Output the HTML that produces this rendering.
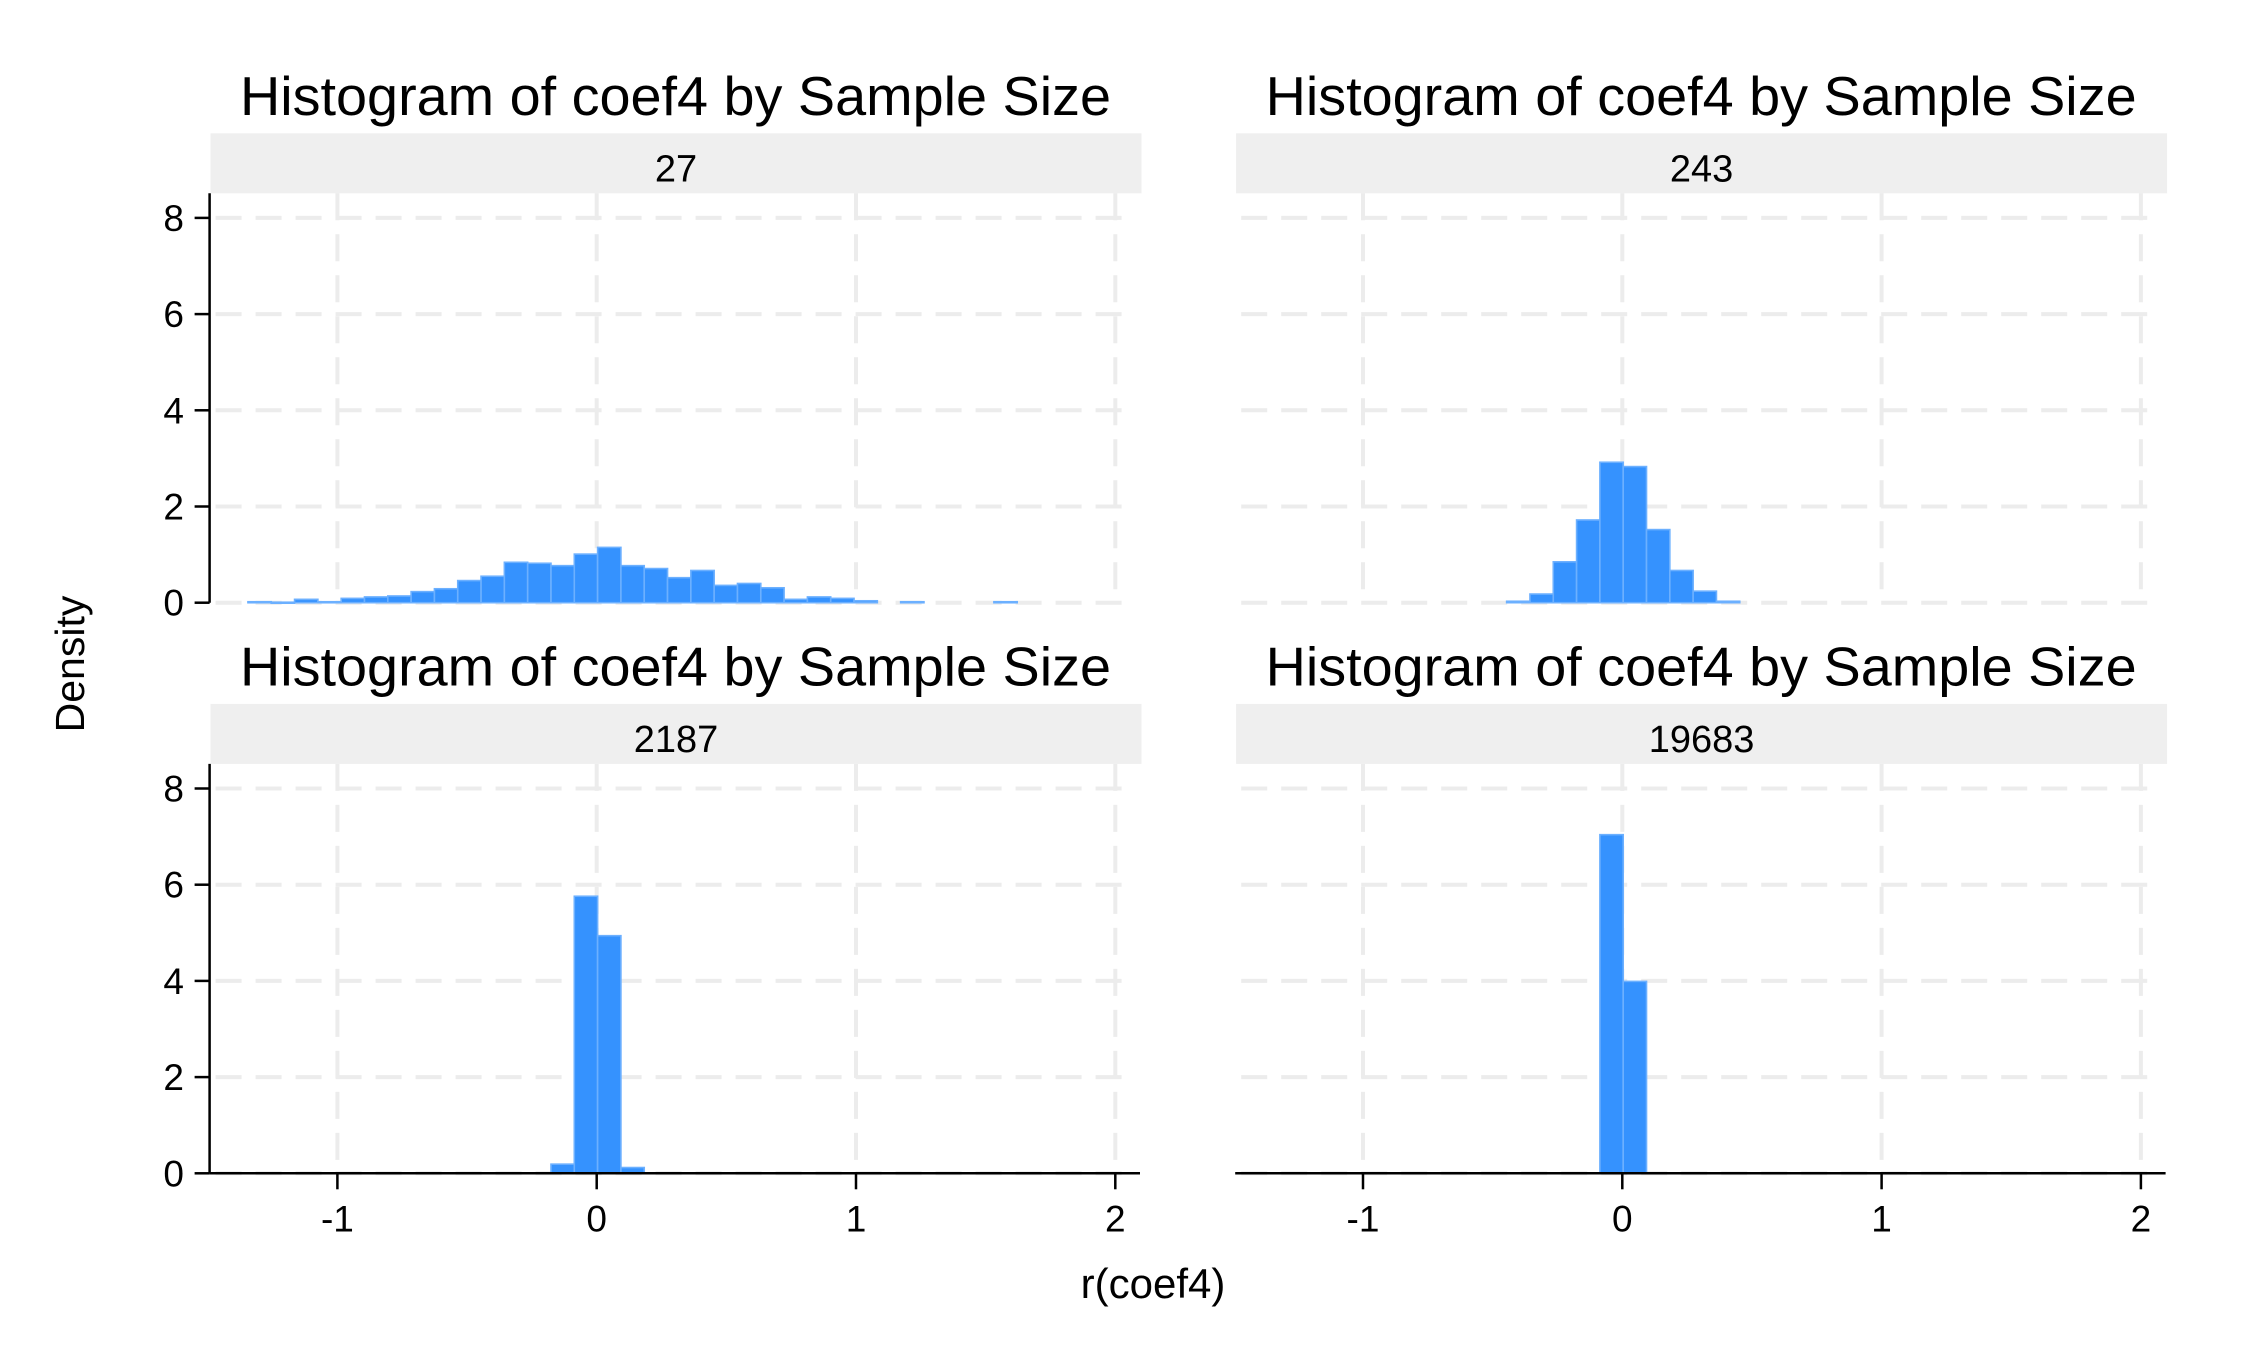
<!DOCTYPE html>
<html><head><meta charset="utf-8">
<style>
html,body{margin:0;padding:0;background:#fff;}
svg{display:block;font-family:"Liberation Sans",Arial,sans-serif;}
</style></head>
<body>
<svg id="chart" width="2262" height="1358" viewBox="0 0 2262 1358" xmlns="http://www.w3.org/2000/svg">
<rect x="0" y="0" width="2262" height="1358" fill="#fff"/>
<text x="84" y="664" font-size="41" text-anchor="middle" transform="rotate(-90 84 664)">Density</text>
<text x="1153" y="1298" font-size="42" text-anchor="middle">r(coef4)</text>
</svg>
<script>
const binStart = -1.345;
const binWidth = 0.0899;
const panelLabels = ["27", "243", "2187", "19683"];
const firstBins = [0, 10, 13, 14];
const density27 = [0.02,0.01,0.07,0.02,0.09,0.12,0.14,0.23,0.29,0.46,0.55,0.84,0.82,0.77,1.01,1.15,0.77,0.71,0.52,0.67,0.36,0.40,0.31,0.07,0.12,0.09,0.04,0,0.02,0,0,0,0.02];
const density243 = [0.03,0.18,0.85,1.72,2.92,2.83,1.52,0.67,0.24,0.03];
const density2187 = [0.19,5.76,4.94,0.12];
const density19683 = [7.04,3.99];
const xTicks = [-1, 0, 1, 2];
const xTickLabels = ["-1", "0", "1", "2"];
const yTicks = [0, 2, 4, 6, 8];
const yTickLabels = ["0", "2", "4", "6", "8"];

const series = [density27, density243, density2187, density19683];
const NS = "http://www.w3.org/2000/svg";
const svg = document.getElementById("chart");
function mk(tag, attrs, parent) {
  const e = document.createElementNS(NS, tag);
  for (const k in attrs) e.setAttribute(k, attrs[k]);
  (parent || svg).appendChild(e);
  return e;
}
const panels = [
  {dx:0, dy:0, yAxis:true, xAxis:false},
  {dx:1025.6, dy:0, yAxis:false, xAxis:false},
  {dx:0, dy:570.6, yAxis:true, xAxis:true},
  {dx:1025.6, dy:570.6, yAxis:false, xAxis:true}
];
panels.forEach((p, i) => {
  const g = mk("g", {});
  
  
  const x0 = 596.7 + p.dx, unit = 259.3;
  const y0 = 602.7 + p.dy, yu = 48.1;
  const xs = v => x0 + v * unit;
  const ys = v => y0 - v * yu;
  const left = 209.6 + p.dx, right = 1140 + p.dx;
  const stripTop = 133.3 + p.dy, stripBot = 193.3 + p.dy;
  const t = mk("text", {x: 675.5 + p.dx, y: 115 + p.dy, "font-size": 55, "text-anchor": "middle", textLength: 871, lengthAdjust: "spacingAndGlyphs"}, g);
  t.textContent = "Histogram of coef4 by Sample Size";
  
  
  const s = mk("rect", {x: 210.5 + p.dx, y: stripTop, width: 931, height: 60, fill: "#efefef"}, g);
  
  
  const st = mk("text", {x: 676 + p.dx, y: 181.5 + p.dy, "font-size": 38, "text-anchor": "middle"}, g);
  st.textContent = panelLabels[i];
  
  
  yTicks.forEach(v => {
    const l = mk("line", {x1: left + 6, x2: 1133 + p.dx, y1: ys(v), y2: ys(v), stroke: "#ececec", "stroke-width": 4, "stroke-dasharray": "26 14"}, g);
    
    
  });
  xTicks.forEach(v => {
    const l = mk("line", {x1: xs(v), x2: xs(v), y1: stripBot, y2: y0, stroke: "#ececec", "stroke-width": 4, "stroke-dasharray": "27 14"}, g);
    
    
  });
  series[i].forEach((d, j) => {
    if (d <= 0) return;
    const b = firstBins[i] + j;
    const xa = xs(binStart + b * binWidth), xb = xs(binStart + (b + 1) * binWidth);
    const r = mk("rect", {x: xa, y: ys(d), width: xb - xa, height: Math.max(ys(0) - ys(d), 1), fill: "#3592fe", stroke: "#6cb0ff", "stroke-width": 1.6}, g);
    
    
  });
  if (p.yAxis) {
    const ya = mk("line", {x1: left, x2: left, y1: stripBot, y2: y0, stroke: "#000", "stroke-width": 2.5}, g);
    
    
    yTicks.forEach((v, k) => {
      const tk = mk("line", {x1: left - 15, x2: left, y1: ys(v), y2: ys(v), stroke: "#000", "stroke-width": 2.5}, g);
      
      
      const tl = mk("text", {x: 184 + p.dx, y: ys(v) + 13, "font-size": 37, "text-anchor": "end"}, g);
      tl.textContent = yTickLabels[k];
      
      
    });
  }
  if (p.xAxis) {
    const xa = mk("line", {x1: left, x2: right, y1: y0, y2: y0, stroke: "#000", "stroke-width": 2.5}, g);
    
    
    xTicks.forEach((v, k) => {
      const tk = mk("line", {x1: xs(v), x2: xs(v), y1: y0, y2: y0 + 16, stroke: "#000", "stroke-width": 2.5}, g);
      
      
      const tl = mk("text", {x: xs(v), y: y0 + 58, "font-size": 37, "text-anchor": "middle"}, g);
      tl.textContent = xTickLabels[k];
      
      
    });
  }
});
</script>
</body></html>
